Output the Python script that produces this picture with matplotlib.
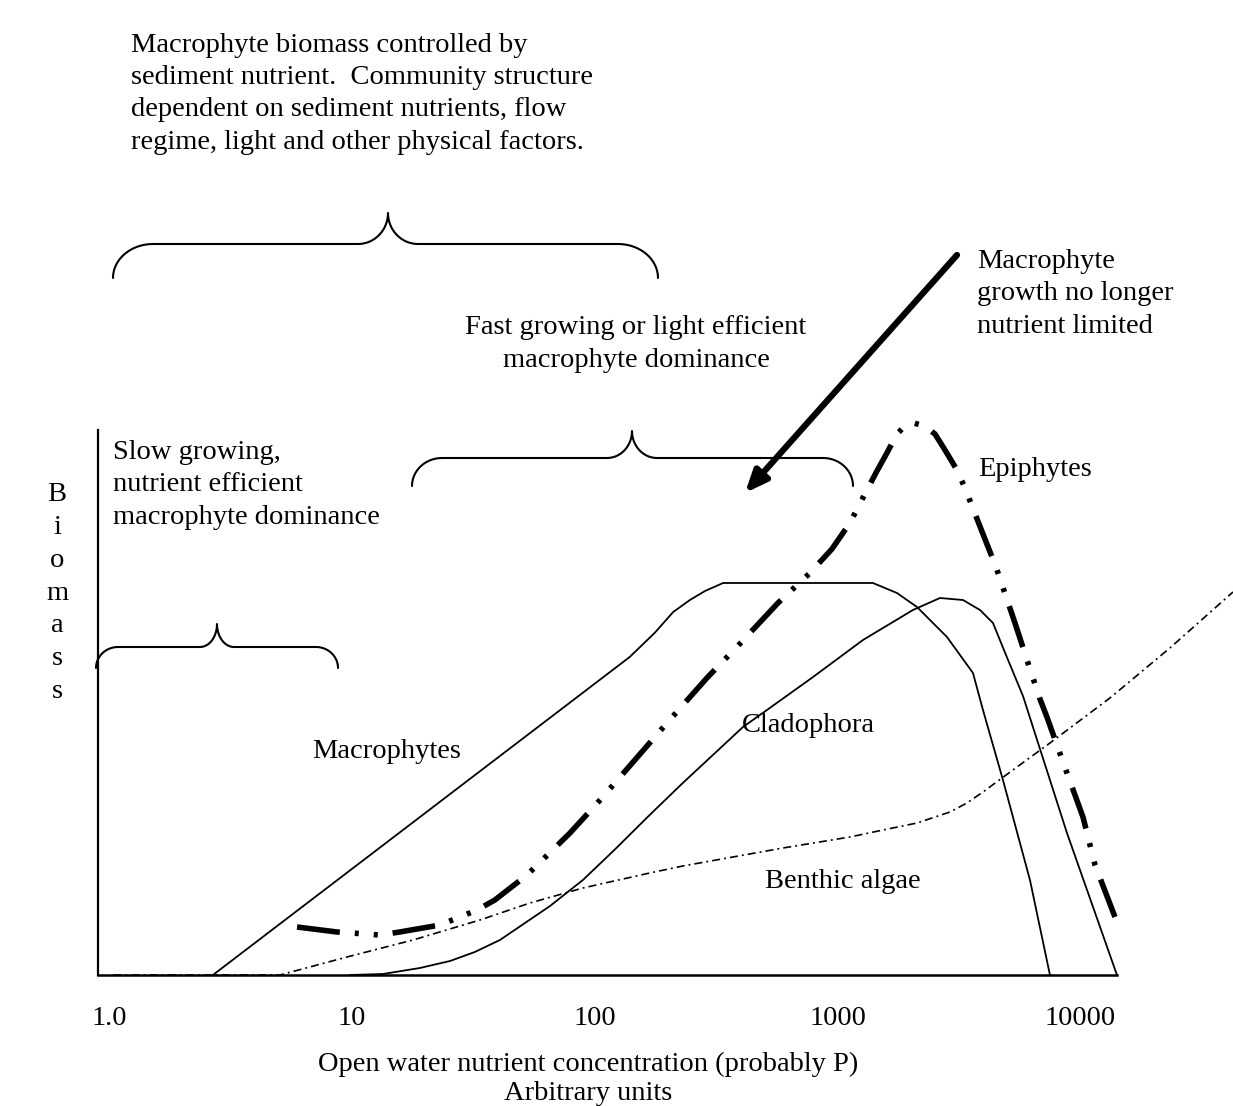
import matplotlib.pyplot as plt
import numpy as np

plt.rcParams['font.family'] = ['Liberation Serif', 'DejaVu Serif']
plt.rcParams['lines.scale_dashes'] = False

W, H = 1233, 1106
FS = 20.5
LS = 1.38

# nutrient concentration (arbitrary units) and biomass (arbitrary units)
macro_x = [2.67, 139, 176, 210, 246, 284, 337, 1396, 1753, 2120, 2817, 3605, 3963, 4790, 6188, 7480]
macro_y = [0, 3.18, 3.42, 3.63, 3.75, 3.84, 3.92, 3.92, 3.82, 3.68, 3.38, 3.02, 2.65, 1.95, 0.95, 0]

clad_x = [9.79, 13.4, 19.0, 25.3, 32.0, 40.6, 51.5, 65.3, 89.2, 119, 168, 230, 407, 511, 791,
          1270, 2040, 2636, 3279, 3853, 4358, 4930, 5792, 8790, 14120]
clad_y = [0, 0.01, 0.07, 0.14, 0.23, 0.35, 0.52, 0.69, 0.95, 1.24, 1.60, 1.92, 2.48, 2.65, 2.98,
          3.35, 3.65, 3.77, 3.75, 3.65, 3.52, 3.20, 2.79, 1.42, 0]

epi_x = [5.93, 8.66, 13.0, 15.7, 23.0, 32.7, 38.7, 52.5, 78.9, 105, 198, 289, 384, 567,
         768, 946, 1122, 1319, 1450, 1594, 1753, 1891, 2060, 2265, 2514, 2764, 3097, 3341,
         3889, 4484, 5420, 6188, 6805, 7269, 8463, 10230, 11470, 13860]
epi_y = [0.48, 0.43, 0.40, 0.43, 0.50, 0.65, 0.75, 1.00, 1.42, 1.75, 2.52, 2.97, 3.28, 3.72,
         4.02, 4.26, 4.52, 4.85, 5.04, 5.22, 5.41, 5.49, 5.52, 5.49, 5.41, 5.25, 5.05, 4.87,
         4.46, 4.08, 3.49, 3.06, 2.76, 2.58, 2.13, 1.58, 1.10, 0.58]

benth_x = [1.04, 5.04, 9.52, 17.8, 33.6, 54.0, 89.2, 168, 230, 595, 1122, 1536, 2120, 2899,
           3404, 3963, 5472, 7480, 13210, 23330, 42440]
benth_y = [0, 0, 0.18, 0.35, 0.55, 0.72, 0.87, 1.02, 1.09, 1.27, 1.38, 1.45, 1.52, 1.63,
           1.72, 1.83, 2.08, 2.32, 2.77, 3.27, 3.83]

tick_vals = [1, 10, 100, 1000, 10000]
tick_labels = ['1.0', '10', '100', '1000', '10000']

fig = plt.figure(figsize=(W / 100, H / 100), dpi=100)
ax = fig.add_axes([98 / W, (H - 975) / H, (W - 98) / W, (975 - 400) / H])
ax.set_xscale('log')
ax.set_xlim(0.898, 42440)
ax.set_ylim(0, 5.75)

for s in ['top', 'right']:
    ax.spines[s].set_visible(False)
ax.spines['left'].set_bounds(0, 5.45)
ax.spines['bottom'].set_bounds(0.898, 14120)
ax.spines['left'].set_linewidth(1.6)
ax.spines['bottom'].set_linewidth(1.8)
ax.set_xticks(tick_vals, labels=tick_labels)
ax.xaxis.set_minor_locator(plt.NullLocator())
ax.set_yticks([])
ax.tick_params(axis='x', length=0, pad=22, labelsize=FS)

ax.plot(macro_x, macro_y, color='black', lw=1.3, clip_on=False)
ax.plot(clad_x, clad_y, color='black', lw=1.3, clip_on=False)
ax.plot(benth_x, benth_y, color='black', lw=1.2, dashes=[5.8, 2.9, 1.4, 2.9], clip_on=False)
ax.plot(epi_x, epi_y, color='black', lw=4, dashes=[31, 10.8, 2.9, 10.8, 2.9, 10.8],
        dash_capstyle='butt', clip_on=False)


def px(x, y):
    return x / W, 1 - y / H


def brace(x0, x1, xm, ybar, yend, ytip, rx, tx):
    # curly brace, given in pixels of the figure
    t1 = np.linspace(np.pi, np.pi / 2, 20)
    t2 = np.linspace(-np.pi / 2, 0, 20)
    ry = yend - ybar
    ty = ybar - ytip
    lx = x0 + rx + rx * np.cos(t1)
    ly = yend - ry * np.sin(t1)
    mx = xm - tx + tx * np.cos(t2)
    my = ytip - ty * np.sin(t2)
    rmx = xm + tx - tx * np.cos(t2)
    rlx = x1 - rx - rx * np.cos(t1)
    xs = np.concatenate([lx, mx, rmx[::-1], rlx[::-1]])
    ys = np.concatenate([ly, my, my[::-1], ly[::-1]])
    ax.plot(xs / W, 1 - ys / H, color='black', lw=1.5, transform=fig.transFigure,
            clip_on=False, solid_capstyle='round')


brace(113, 658, 388, 244, 278, 213, 40, 30)
brace(412, 853, 632, 458, 486, 431, 30, 25)
brace(96, 338, 217, 647, 668, 624, 22, 17)

ax.annotate('', xy=px(745, 493), xycoords='figure fraction',
            xytext=px(957, 255), textcoords='figure fraction',
            arrowprops=dict(arrowstyle='-|>,head_length=1.3,head_width=0.55',
                            lw=4.5, color='black', shrinkA=0, shrinkB=0))

fig.text(*px(131, 33), 'Macrophyte biomass controlled by\nsediment nutrient.  Community structure\n'
         'dependent on sediment nutrients, flow\nregime, light and other physical factors.',
         fontsize=FS, va='top', ha='left', linespacing=LS)
fig.text(*px(636, 344), 'Fast growing or light efficient\nmacrophyte dominance',
         fontsize=FS, va='center', ha='center', linespacing=LS)
fig.text(*px(977, 294), 'Macrophyte\ngrowth no longer\nnutrient limited',
         fontsize=FS, va='center', ha='left', linespacing=LS)
fig.text(*px(113, 485), 'Slow growing,\nnutrient efficient\nmacrophyte dominance',
         fontsize=FS, va='center', ha='left', linespacing=LS)
fig.text(*px(978, 469), 'Epiphytes', fontsize=FS, va='center', ha='left')
fig.text(*px(312, 751), 'Macrophytes', fontsize=FS, va='center', ha='left')
fig.text(*px(742, 726), 'Cladophora', fontsize=FS, va='center', ha='left')
fig.text(*px(765, 881), 'Benthic algae', fontsize=FS, va='center', ha='left')
fig.text(*px(57, 593), 'B\ni\no\nm\na\ns\ns', fontsize=FS, va='center', ha='center',
         linespacing=1.41)
fig.text(*px(588, 1052), 'Open water nutrient concentration (probably P)\nArbitrary units',
         fontsize=FS, va='top', ha='center', linespacing=1.2)

fig.savefig('out.png', dpi=100, facecolor='white')
